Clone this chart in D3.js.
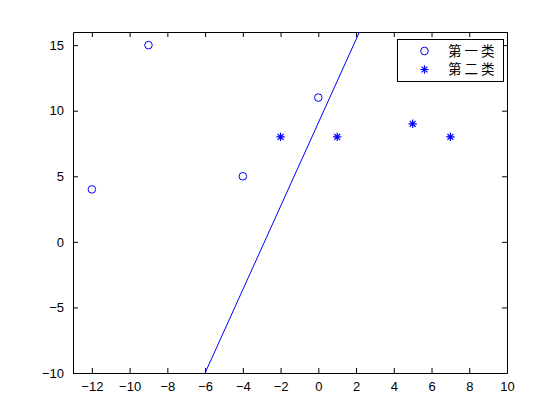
<!DOCTYPE html>
<html>
<head>
<meta charset="utf-8">
<script src="https://cdn.jsdelivr.net/npm/d3@7"></script>
<style>
  body { margin: 0; background: #fff; }
  svg { display: block; }
</style>
</head>
<body>
<div id="chart"></div>
<script>
// class 1 (circles)
const class1X = [-12, -9, -4, 0];
const class1Y = [4, 15, 5, 11];
// class 2 (stars)
const class2X = [-2, 1, 5, 7];
const class2Y = [8, 8, 9, 8];
// separating line end points
const lineX = [-6, 2.18];
const lineY = [-10, 16];

const seriesNames = ["第一类", "第二类"];
const xTicks = [-12, -10, -8, -6, -4, -2, 0, 2, 4, 6, 8, 10];
const yTicks = [-10, -5, 0, 5, 10, 15];

const width = 560, height = 420;
const margin = { top: 32, right: 53, bottom: 47, left: 73 };
const blue = "#0000ff";

const svg = d3.select("#chart").append("svg")
    .attr("width", width)
    .attr("height", height);

const x = d3.scaleLinear().domain([-13, 10]).range([margin.left, width - margin.right]);
const y = d3.scaleLinear().domain([-10, 16]).range([height - margin.bottom, margin.top]);

const tickLen = 5;
const font = "'Liberation Sans', Arial, sans-serif";

// axes (ticks point inward, box on)
svg.append("g")
    .attr("transform", `translate(0,${y(-10)})`)
    .call(d3.axisBottom(x).tickValues(xTicks).tickSizeInner(-tickLen).tickSizeOuter(0).tickPadding(9));
svg.append("g")
    .attr("transform", `translate(0,${y(16)})`)
    .call(d3.axisTop(x).tickValues(xTicks).tickSizeInner(-tickLen).tickSizeOuter(0).tickFormat(""));
svg.append("g")
    .attr("transform", `translate(${x(-13)},0)`)
    .call(d3.axisLeft(y).tickValues(yTicks).tickSizeInner(-tickLen).tickSizeOuter(0).tickPadding(9));
svg.append("g")
    .attr("transform", `translate(${x(10)},0)`)
    .call(d3.axisRight(y).tickValues(yTicks).tickSizeInner(-tickLen).tickSizeOuter(0).tickFormat(""));

svg.selectAll(".domain").attr("stroke", "#000").attr("stroke-width", 1);
svg.selectAll(".tick line").attr("stroke", "#000");
svg.selectAll(".tick text")
    .attr("font-family", font)
    .attr("font-size", 13)
    .attr("fill", "#000");

// clip
svg.append("clipPath").attr("id", "clip")
    .append("rect")
    .attr("x", x(-13)).attr("y", y(16))
    .attr("width", x(10) - x(-13)).attr("height", y(-10) - y(16));

const plot = svg.append("g").attr("clip-path", "url(#clip)");

// line
plot.append("path")
    .datum(d3.zip(lineX, lineY))
    .attr("fill", "none")
    .attr("stroke", blue)
    .attr("stroke-width", 1)
    .attr("d", d3.line().x(d => x(d[0])).y(d => y(d[1])));

// circles
plot.selectAll(".c1")
    .data(d3.zip(class1X, class1Y))
    .join("circle")
    .attr("class", "c1")
    .attr("cx", d => x(d[0]))
    .attr("cy", d => y(d[1]))
    .attr("r", 3.8)
    .attr("fill", "none")
    .attr("stroke", blue)
    .attr("stroke-width", 1);

// star marker
const starPath = (s) => {
    const d = s * 0.7;
    return `M${-s},0L${s},0M0,${-s}L0,${s}M${-d},${-d}L${d},${d}M${-d},${d}L${d},${-d}`;
};

plot.selectAll(".c2")
    .data(d3.zip(class2X, class2Y))
    .join("path")
    .attr("class", "c2")
    .attr("transform", d => `translate(${x(d[0])},${y(d[1])})`)
    .attr("d", starPath(4.2))
    .attr("fill", "none")
    .attr("stroke", blue)
    .attr("stroke-width", 1.2);

// legend
const legend = svg.append("g").attr("transform", "translate(397,39)");
legend.append("rect")
    .attr("x", 0.5).attr("y", 0.5)
    .attr("width", 106).attr("height", 42)
    .attr("fill", "#fff")
    .attr("stroke", "#000");

legend.append("circle")
    .attr("cx", 27.5).attr("cy", 12)
    .attr("r", 3.8)
    .attr("fill", "none")
    .attr("stroke", blue);
legend.append("path")
    .attr("transform", "translate(27.5,30.5)")
    .attr("d", starPath(4.2))
    .attr("fill", "none")
    .attr("stroke", blue)
    .attr("stroke-width", 1.2);

legend.selectAll("text")
    .data(seriesNames)
    .join("text")
    .attr("x", 51)
    .attr("y", (d, i) => 12 + i * 18.5)
    .attr("dy", "0.36em")
    .attr("font-family", "'Noto Sans CJK SC', sans-serif")
    .attr("font-size", 13.5)
    .attr("letter-spacing", 3)
    .attr("fill", "#000")
    .text(d => d);
</script>
</body>
</html>
